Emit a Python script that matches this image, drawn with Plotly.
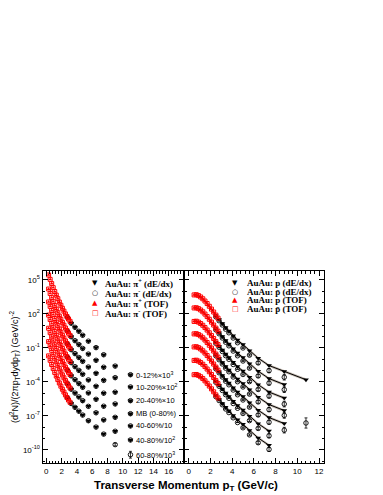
import plotly.graph_objects as go

W, H = 383, 495

# centrality classes, top to bottom
classes = ["0-12%×10<sup>3</sup>", "10-20%×10<sup>2</sup>", "20-40%×10", "MB (0-80%)",
           "40-60%/10", "40-80%/10<sup>2</sup>", "60-80%/10<sup>3</sup>"]

# ---- pions (log10 of scaled yield) ----
pi_tof_pt = [0.3, 0.5, 0.7, 0.9, 1.1, 1.3, 1.5, 1.7, 1.9, 2.1, 2.3, 2.5, 2.7, 2.9, 3.1]
pi_tof_log = [
    [5.44, 5.05, 4.68, 4.32, 3.98, 3.66, 3.35, 3.05, 2.77, 2.50, 2.25, 2.00, 1.77, 1.55, 1.35],
    [4.20, 3.81, 3.44, 3.08, 2.74, 2.42, 2.11, 1.81, 1.53, 1.26, 1.01, 0.76, 0.53, 0.31, 0.11],
    [3.06, 2.67, 2.30, 1.94, 1.60, 1.28, 0.97, 0.67, 0.39, 0.12, -0.13, -0.38, -0.61, -0.83, -1.03],
    [1.90, 1.51, 1.14, 0.78, 0.44, 0.12, -0.19, -0.49, -0.77, -1.04, -1.29, -1.54, -1.77, -1.99, -2.19],
    [0.74, 0.35, -0.02, -0.38, -0.72, -1.04, -1.35, -1.65, -1.93, -2.20, -2.45, -2.70, -2.93, -3.15, -3.35],
    [-0.44, -0.83, -1.20, -1.56, -1.90, -2.22, -2.53, -2.83, -3.11, -3.38, -3.63, -3.88, -4.11, -4.33, -4.53],
    [-1.70, -2.09, -2.46, -2.82, -3.16, -3.48, -3.79, -4.09, -4.37, -4.64, -4.89, -5.14, -5.37, -5.59, -5.79],
]
pi_dedx_pt = [2.75, 3.25, 3.75, 4.25, 4.75, 5.5, 6.5, 7.5, 9.0, 11.0]
pip_dedx_log = [
    [1.68, 1.18, 0.82, 0.47, 0.12, -0.40, -0.97, -1.60, -2.60, -3.36],
    [0.48, -0.01, -0.36, -0.70, -1.04, -1.54, -2.09, -2.70, -3.62, -4.44],
    [-0.66, -1.15, -1.50, -1.84, -2.18, -2.68, -3.24, -3.86, -4.90, -5.65],
    [-1.82, -2.30, -2.65, -2.98, -3.32, -3.82, -4.38, -4.99, -5.94, -6.80],
    [-2.97, -3.46, -3.80, -4.14, -4.47, -4.97, -5.53, -6.14, -7.12, -7.88],
    [-4.16, -4.64, -4.98, -5.32, -5.65, -6.15, -6.72, -7.35, -8.35, -9.12],
    [-5.42, -5.90, -6.24, -6.58, -6.92, -7.42, -7.98, -8.60, None, None],
]
pim_dedx_log = [
    [1.68, 1.18, 0.82, 0.47, 0.12, -0.40, -0.97, -1.60, -2.60, -3.36],
    [0.48, -0.01, -0.36, -0.70, -1.04, -1.54, -2.09, -2.70, -3.62, -4.44],
    [-0.66, -1.15, -1.50, -1.84, -2.18, -2.68, -3.24, -3.86, -4.90, -5.65],
    [-1.82, -2.30, -2.65, -2.98, -3.32, -3.82, -4.38, -4.99, -5.94, -6.80],
    [-2.97, -3.46, -3.80, -4.14, -4.47, -4.97, -5.53, -6.14, -7.12, -7.88],
    [-4.16, -4.64, -4.98, -5.32, -5.65, -6.15, -6.72, -7.35, -8.35, -9.12],
    [-5.42, -5.90, -6.24, -6.58, -6.92, -7.42, -7.98, -8.60, -9.53, -10.42],
]
pim_dedx_err = [0, 0, 0, 0, 0, 0, 0.03, 0.05, 0.12, 0.3]

# ---- protons (log10 of scaled yield) ----
p_tof_pt = [0.5, 0.7, 0.9, 1.1, 1.3, 1.5, 1.7, 1.9, 2.1, 2.3, 2.5, 2.7]
p_tof_log = [
    [3.68, 3.70, 3.62, 3.50, 3.34, 3.14, 2.92, 2.68, 2.43, 2.17, 1.90, 1.63],
    [2.53, 2.55, 2.47, 2.35, 2.19, 1.99, 1.77, 1.53, 1.28, 1.02, 0.75, 0.48],
    [1.34, 1.36, 1.28, 1.16, 1.00, 0.80, 0.58, 0.34, 0.09, -0.17, -0.44, -0.71],
    [0.24, 0.26, 0.18, 0.06, -0.10, -0.30, -0.52, -0.76, -1.01, -1.27, -1.54, -1.81],
    [-0.91, -0.89, -0.97, -1.09, -1.25, -1.45, -1.67, -1.91, -2.16, -2.42, -2.69, -2.96],
    [-2.10, -2.08, -2.16, -2.28, -2.44, -2.64, -2.86, -3.10, -3.35, -3.61, -3.88, -4.15],
    [-3.36, -3.34, -3.42, -3.54, -3.70, -3.90, -4.12, -4.36, -4.61, -4.87, -5.14, -5.41],
]
pbar_tof_log = p_tof_log  # p and pbar TOF points sit on top of each other at this scale

p_dedx_pt = [2.5, 2.8, 3.1, 3.4, 3.7, 4.1, 4.5, 5.0, 5.6, 6.4, 7.4, 8.8, 10.8]
p_dedx_log = [
    [1.85, 1.50, 1.15, 0.80, 0.50, 0.08, -0.30, -0.70, -1.25, -1.90, -2.55, -3.08, -3.80],
    [0.70, 0.35, 0.00, -0.35, -0.65, -1.07, -1.45, -1.85, -2.40, -3.05, -3.70, -4.23, None],
    [-0.49, -0.84, -1.19, -1.54, -1.84, -2.26, -2.64, -3.04, -3.59, -4.24, -4.89, -5.42, None],
    [-1.59, -1.94, -2.29, -2.64, -2.94, -3.36, -3.74, -4.14, -4.69, -5.34, -5.99, -6.52, None],
    [-2.74, -3.09, -3.44, -3.79, -4.09, -4.51, -4.89, -5.29, -5.84, -6.49, -7.14, -7.67, None],
    [-3.93, -4.28, -4.63, -4.98, -5.28, -5.70, -6.08, -6.48, -7.03, -7.68, -8.33, None, None],
    [-5.19, -5.54, -5.89, -6.24, -6.54, -6.96, -7.34, -7.74, -8.29, -8.94, -9.59, None, None],
]
pbar_dedx_log = [
    [1.75, 1.40, 1.03, 0.66, 0.34, -0.12, -0.54, -1.00, -1.63, -2.32, -3.00, -3.58, None],
    [0.60, 0.25, -0.12, -0.49, -0.81, -1.27, -1.69, -2.15, -2.78, -3.47, -4.10, -4.68, None],
    [-0.59, -0.94, -1.31, -1.68, -2.00, -2.46, -2.88, -3.34, -3.97, -4.66, -5.24, -5.95, None],
    [-1.69, -2.04, -2.41, -2.78, -3.10, -3.56, -3.98, -4.44, -5.07, -5.76, -6.44, -6.95, -7.62],
    [-2.84, -3.19, -3.56, -3.93, -4.25, -4.71, -5.13, -5.59, -6.22, -6.91, -7.55, -8.25, None],
    [-4.03, -4.38, -4.75, -5.12, -5.44, -5.90, -6.32, -6.78, -7.41, -8.10, -8.75, None, None],
    [-5.29, -5.64, -6.01, -6.38, -6.70, -7.16, -7.58, -8.04, -8.67, -9.36, -9.95, None, None],
]
pbar_dedx_err = [0, 0, 0, 0, 0, 0, 0, 0.05, 0.08, 0.12, 0.18, 0.25, 0.45]
fit_band = 0.12  # half width of the model band, in log10


def lin(vals):
    return [None if v is None else 10 ** v for v in vals]


def errs(vals, e):
    up = [0 if v is None else 10 ** (v + d) - 10 ** v for v, d in zip(vals, e)]
    dn = [0 if v is None else 10 ** v - 10 ** (v - d) for v, d in zip(vals, e)]
    return dict(type="data", symmetric=False, array=up, arrayminus=dn,
                color="black", thickness=0.8, width=1.5)


RED = "#ff0000"
fig = go.Figure()

# left panel: pions
for k in range(len(classes)):
    fig.add_trace(go.Scatter(
        x=pi_dedx_pt, y=lin(pim_dedx_log[k]), mode="markers", xaxis="x", yaxis="y",
        marker=dict(symbol="circle-open", size=4.5, color="black", line=dict(width=0.9)),
        error_y=errs(pim_dedx_log[k], pim_dedx_err if k == 6 else [0] * 8 + [0.03, 0.05])))
    fig.add_trace(go.Scatter(
        x=pi_dedx_pt, y=lin(pip_dedx_log[k]), mode="markers", xaxis="x", yaxis="y",
        marker=dict(symbol="triangle-down", size=5, color="black")))
    fig.add_trace(go.Scatter(
        x=pi_tof_pt, y=lin(pi_tof_log[k]), mode="markers", xaxis="x", yaxis="y",
        marker=dict(symbol="triangle-up", size=3.5, color=RED)))
    fig.add_trace(go.Scatter(
        x=pi_tof_pt, y=lin(pi_tof_log[k]), mode="markers", xaxis="x", yaxis="y",
        marker=dict(symbol="square-open", size=4, color=RED, line=dict(width=1))))

# right panel: protons
for k in range(len(classes)):
    pts = [(x, v) for x, v in zip(p_tof_pt + p_dedx_pt, p_tof_log[k] + p_dedx_log[k])
           if v is not None]
    pts = [pts[i] for i in range(len(pts)) if i == 0 or pts[i][0] > pts[i - 1][0]]
    fx = [p[0] for p in pts]
    fv = [p[1] for p in pts]
    fig.add_trace(go.Scatter(
        x=fx + fx[::-1], y=lin([v + fit_band for v in fv] + [v - fit_band for v in fv[::-1]]),
        fill="toself", fillcolor="rgba(140,120,100,0.5)", line=dict(width=0),
        mode="lines", xaxis="x2", yaxis="y2", hoverinfo="skip"))
    fig.add_trace(go.Scatter(
        x=fx, y=lin(fv), mode="lines", line=dict(color="black", width=1),
        xaxis="x2", yaxis="y2"))
    fig.add_trace(go.Scatter(
        x=p_dedx_pt, y=lin(pbar_dedx_log[k]), mode="markers", xaxis="x2", yaxis="y2",
        marker=dict(symbol="circle-open", size=4.5, color="black", line=dict(width=0.9)),
        error_y=errs(pbar_dedx_log[k], pbar_dedx_err)))
    fig.add_trace(go.Scatter(
        x=p_dedx_pt, y=lin(p_dedx_log[k]), mode="markers", xaxis="x2", yaxis="y2",
        marker=dict(symbol="triangle-down", size=5, color="black")))
    fig.add_trace(go.Scatter(
        x=p_tof_pt, y=lin(p_tof_log[k]), mode="markers", xaxis="x2", yaxis="y2",
        marker=dict(symbol="triangle-up", size=3.5, color=RED)))
    fig.add_trace(go.Scatter(
        x=p_tof_pt, y=lin(pbar_tof_log[k]), mode="markers", xaxis="x2", yaxis="y2",
        marker=dict(symbol="square-open", size=4, color=RED, line=dict(width=1))))

# centrality labels next to the last pion point of each class
for k, name in enumerate(classes):
    fig.add_annotation(x=11.4, y=pim_dedx_log[k][-1], xref="x", yref="y", text=name,
                       showarrow=False, xanchor="left", yanchor="middle",
                       font=dict(family="Liberation Sans", size=7.5, color="black"))


def px(x):
    return x / W


def py(y):
    return 1 - y / H


left_leg = [("▼", "black", "AuAu: π<sup>+</sup> (dE/dx)"),
            ("○", "black", "AuAu: π<sup>-</sup> (dE/dx)"),
            ("▲", RED, "AuAu: π<sup>+</sup> (TOF)"),
            ("□", RED, "AuAu: π<sup>-</sup> (TOF)")]
for (sym, col, txt), yy in zip(left_leg, [275, 285, 295, 305]):
    fig.add_annotation(x=px(87), y=py(yy), xref="paper", yref="paper", text=sym, showarrow=False,
                       xanchor="center", yanchor="middle",
                       font=dict(family="DejaVu Sans", size=7, color=col))
    fig.add_annotation(x=px(95), y=py(yy), xref="paper", yref="paper", text=txt, showarrow=False,
                       xanchor="left", yanchor="middle",
                       font=dict(family="Liberation Serif", size=9, color="black", weight="bold"))

right_leg = [("▼", "black", "AuAu: p (dE/dx)"),
             ("○", "black", "AuAu: p\u0304 (dE/dx)"),
             ("▲", RED, "AuAu: p (TOF)"),
             ("□", RED, "AuAu: p\u0304 (TOF)")]
for (sym, col, txt), yy in zip(right_leg, [275, 284, 292, 300.5]):
    fig.add_annotation(x=px(227), y=py(yy), xref="paper", yref="paper", text=sym, showarrow=False,
                       xanchor="center", yanchor="middle",
                       font=dict(family="DejaVu Sans", size=7, color=col))
    fig.add_annotation(x=px(237), y=py(yy), xref="paper", yref="paper", text=txt, showarrow=False,
                       xanchor="left", yanchor="middle",
                       font=dict(family="Liberation Serif", size=9, color="black", weight="bold"))

# common x title under both panels
fig.add_annotation(x=px(178), y=py(478), xref="paper", yref="paper",
                   xanchor="center", yanchor="middle",
                   text="Transverse Momentum p<sub>T</sub> (GeV/c)", showarrow=False,
                   font=dict(family="Liberation Sans", size=11.5, color="black", weight="bold"))

tick_font = dict(family="Liberation Sans", size=8, color="black")
xcommon = dict(showline=True, linecolor="black", linewidth=1, mirror="allticks",
               ticks="inside", ticklen=5, tickcolor="black", tickfont=tick_font,
               showgrid=False, zeroline=False,
               minor=dict(ticks="inside", ticklen=2.5, dtick=0.4, tickcolor="black", showgrid=False))
ylog_vals = [1e-10, 1e-7, 1e-4, 1e-1, 1e2, 1e5]
ylog_text = ["10<sup>-10</sup>", "10<sup>-7</sup>", "10<sup>-4</sup>", "10<sup>-1</sup>",
             "10<sup>2</sup>", "10<sup>5</sup>"]
ycommon = dict(type="log", range=[-11.15, 5.79], showline=True, linecolor="black", linewidth=1,
               mirror="allticks", ticks="inside", ticklen=5, tickcolor="black",
               tickvals=ylog_vals, ticktext=ylog_text, tickfont=tick_font,
               showgrid=False, zeroline=False,
               minor=dict(ticks="inside", ticklen=2.5, tickcolor="black", showgrid=False,
                          tickvals=[10.0 ** e for e in range(-11, 6)]))

fig.update_layout(
    width=W, height=H,
    margin=dict(l=0, r=0, t=0, b=0),
    showlegend=False,
    plot_bgcolor="white", paper_bgcolor="white",
    xaxis=dict(xcommon, domain=[px(34.5), px(176)], range=[-0.5, 18], anchor="y",
               tickvals=[0, 2, 4, 6, 8, 10, 12, 14, 16]),
    xaxis2=dict(xcommon, domain=[px(176), px(316)], range=[-0.43, 12.46], anchor="y2",
                tickvals=[0, 2, 4, 6, 8, 10, 12]),
    yaxis=dict(ycommon, domain=[py(455), py(263)], anchor="x",
               title=dict(text="(d<sup>2</sup>N)/(2πp<sub>T</sub>dydp<sub>T</sub>) (GeV/c)<sup>-2</sup>",
                          font=dict(family="Liberation Sans", size=9, color="black"), standoff=3)),
    yaxis2=dict(ycommon, domain=[py(455), py(263)], anchor="x2", showticklabels=False),
)

fig.write_html("out.html")
